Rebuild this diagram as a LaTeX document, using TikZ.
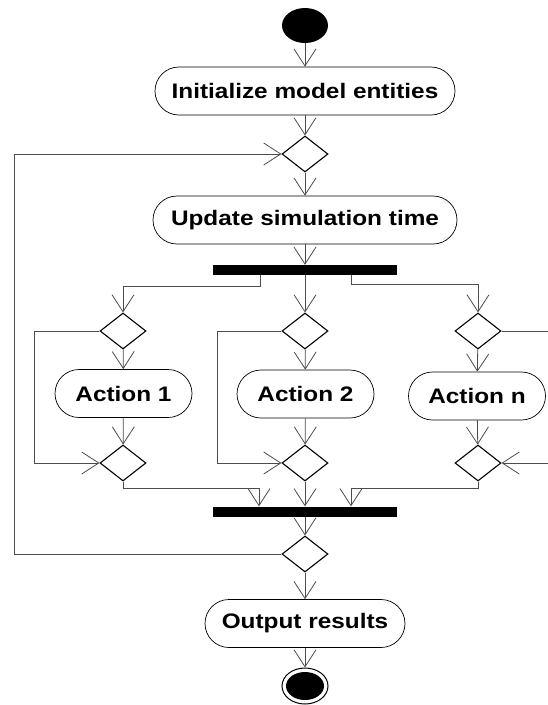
\documentclass[tikz,border=0pt]{standalone}
\usepackage{fontspec}
\setmainfont{Liberation Sans}[FakeStretch=1.16]
\usetikzlibrary{shapes.geometric,arrows.meta,calc}
\begin{document}
\begin{tikzpicture}[x=1pt,y=-1pt,
  conn/.style={draw=black!70, line width=0.8pt},
  arr/.style={conn, -{Straight Barb[length=17pt,width=22pt,line width=0.8pt]}},
  act/.style={draw=black, line width=0.7pt, fill=white, rounded corners=24pt, minimum height=48pt, inner sep=0pt, font=\fontsize{21}{25}\selectfont\bfseries},
  dec/.style={diamond, draw=black, line width=1.1pt, fill=white, minimum width=46pt, minimum height=36pt, inner sep=0pt},
  bar/.style={rectangle, fill=black, minimum width=184pt, minimum height=10pt, inner sep=0pt}
]
\useasboundingbox (0,0) rectangle (548,705);
% nodes
\node[ellipse, fill=black, minimum width=46pt, minimum height=35pt, inner sep=0pt] (start) at (305,25.5) {};
\node[act, minimum width=300pt] (init) at (305,91) {Initialize model entities};
\node[dec] (d1) at (305,154) {};
\node[act, minimum width=304pt] (upd) at (305,220) {Update simulation time};
\node[bar] (fork) at (305,270) {};
\node[dec] (dl) at (123,331) {};
\node[dec] (dm) at (305,331) {};
\node[dec] (dr) at (478,331) {};
\node[act, minimum width=137pt] (a1) at (123.5,393.5) {Action 1};
\node[act, minimum width=137pt] (a2) at (305.5,394) {Action 2};
\node[act, minimum width=137pt] (an) at (477,396) {Action n};
\node[dec] (jl) at (123,463) {};
\node[dec] (jm) at (305,463) {};
\node[dec] (jr) at (478,463) {};
\node[bar] (join) at (305,511.5) {};
\node[dec] (d2) at (305,554) {};
\node[act, minimum width=200pt] (out) at (305,623.5) {Output results};
\node[ellipse, draw=black, line width=1pt, fill=white, minimum width=46pt, minimum height=36pt, inner sep=0pt,
  path picture={\fill[black] (path picture bounding box.center) ellipse [x radius=19pt, y radius=14pt];}] (fin) at (305,686) {};
% coordinates
\coordinate (fl) at (260,275);
\coordinate (fr) at (351,275);
\coordinate (jla) at (259,488);
\coordinate (jra) at (351,488);
\coordinate (rout) at (548,331);
\coordinate (rin) at (548,463);
\coordinate (lp) at (14,554);
% connectors
\draw[arr] (start) -- (init);
\draw[arr] (init) -- (d1);
\draw[arr] (d1) -- (upd);
\draw[arr] (upd) -- (fork);
\draw[arr] (fl) -- ++(0,11) -| (dl);
\draw[arr] (fork) -- (dm);
\draw[arr] (fr) -- ++(0,9) -| (dr);
\draw[arr] (dl) -- (a1);
\draw[arr] (dm) -- (a2);
\draw[arr] (dr) -- (an);
\draw[arr] (a1) -- (jl);
\draw[arr] (a2) -- (jm);
\draw[arr] (an) -- (jr);
\draw[arr] (dl.west) -- ++(-65,0) |- (jl.west);
\draw[arr] (dm.west) -- ++(-64,0) |- (jm.west);
\draw[conn] (dr.east) -- (rout);
\draw[arr] (rin) -- (jr.east);
\draw[arr] (jl.south) |- (jla) -- (jla |- join.north);
\draw[arr] (jm) -- (join);
\draw[arr] (jr.south) |- (jra) -- (jra |- join.north);
\draw[arr] (join) -- (d2);
\draw[arr] (d2.west) -- (lp) |- (d1.west);
\draw[arr] (d2) -- (out);
\draw[arr] (out) -- (fin);
\end{tikzpicture}
\end{document}
